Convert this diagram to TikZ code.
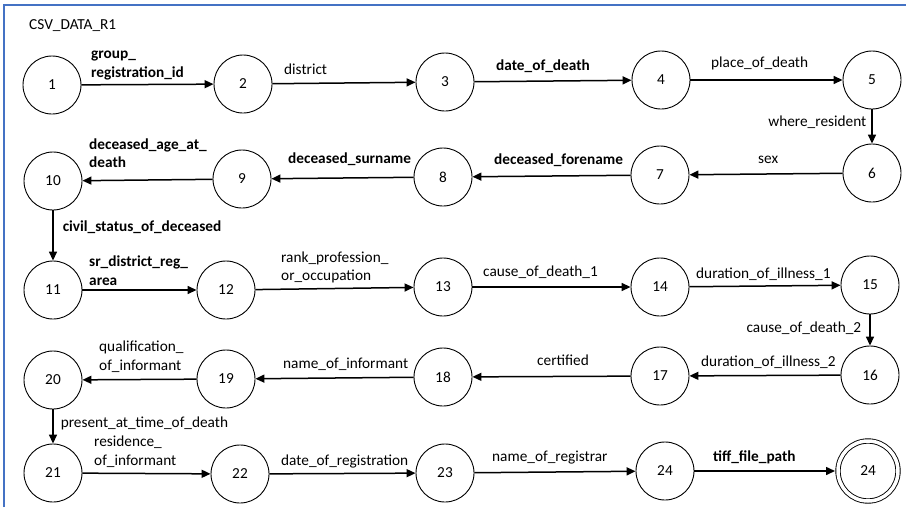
\documentclass[tikz,border=0pt]{standalone}
\usepackage{fontspec}
\setmainfont{Carlito}
\usetikzlibrary{arrows.meta}
\definecolor{frameblue}{HTML}{4472C4}

\begin{document}
\begin{tikzpicture}[
  x=1pt, y=-1pt,
  font=\fontsize{15.3}{18.5}\selectfont,
  st/.style={circle, draw, line width=0.9pt, minimum size=58pt, inner sep=0pt},
  fin/.style={st, double, double distance=3.5pt, minimum size=60pt, outer sep=3pt},
  arr/.style={-{Triangle[length=9pt,width=8pt]}, line width=1.5pt},
  lbl/.style={anchor=south west, inner sep=0pt, align=left, yshift=-5.55pt,
              execute at end node=\strut},
  lblb/.style={lbl, font=\fontsize{15.3}{18.5}\selectfont\bfseries},
  vlbl/.style={inner sep=0pt},
]
\useasboundingbox (0,0) rectangle (906,507);
% frame and title
\draw[frameblue, line width=1.4pt] (4,507) -- (4,5) -- (906,5);
\node[anchor=west, inner sep=0pt] (title) at (29,26) {CSV\_DATA\_R1};
% states
\foreach \n/\x/\y in {
  1/52/85, 2/243/84, 3/445/82, 4/661/80, 5/872/80,
  6/872/173, 7/660/175, 8/443/177, 9/242/179, 10/53/181,
  11/53/290, 12/226/290, 13/443/287, 14/660/287, 15/870/285,
  16/870/375, 17/660/376, 18/443/377, 19/226/379, 20/53/380,
  21/53/473, 22/240/474, 23/445/473, 24/665/471%
}{
  \node[st] (n\n) at (\x,\y) {\n};
}
\node[fin] (nF) at (868,471) {24};
% horizontal transitions
\foreach \a/\b/\p/\dx/\dy/\s/\txt in {
  1/2/0/9/7/lblb/{group\_\\registration\_id},
  2/3/0/11/8/lbl/{district},
  3/4/0/21/10/lblb/{date\_of\_death},
  4/5/0/20/12/lbl/{place\_of\_death},
  6/7/1/68/10/lbl/{sex},
  7/8/1/21/11/lblb/{deceased\_forename},
  8/9/1/16/14/lblb/{deceased\_surname},
  9/10/1/6/12/lblb/{deceased\_age\_at\_\\death},
  11/12/0/6/4/lblb/{sr\_district\_reg\_\\area},
  12/13/0/25/8/lbl/{rank\_profession\_\\or\_occupation},
  13/14/0/10/10/lbl/{cause\_of\_death\_1},
  14/15/0/6/7/lbl/{duration\_of\_illness\_1},
  16/17/1/11/9/lbl/{duration\_of\_illness\_2},
  17/18/1/64/11/lbl/{certified},
  18/19/1/27/9/lbl/{name\_of\_informant},
  19/20/1/16/9/lbl/{qualification\_\\of\_informant},
  21/22/0/11/7/lbl/{residence\_\\of\_informant},
  22/23/0/11/8/lbl/{date\_of\_registration},
  23/24/0/17/10/lbl/{name\_of\_registrar},
  24/F/0/18/9/lblb/{tiff\_file\_path}%
}{
  \draw[arr] (n\a) -- (n\b)
    node[\s, pos=\p, xshift=\dx pt, yshift=\dy pt] {\txt};
}
% vertical transitions
\draw[arr] (n5) -- (n6)
  node[vlbl, midway, anchor=east, xshift=-5pt, yshift=4pt] {where\_resident};
\draw[arr] (n10) -- (n11)
  node[vlbl, midway, anchor=west, xshift=9pt, yshift=8pt, font=\fontsize{15.3}{18.5}\selectfont\bfseries] {civil\_status\_of\_deceased};
\draw[arr] (n15) -- (n16)
  node[vlbl, midway, anchor=east, xshift=-8pt, yshift=2pt] {cause\_of\_death\_2};
\draw[arr] (n20) -- (n21)
  node[vlbl, midway, anchor=west, xshift=7pt, yshift=3pt] {present\_at\_time\_of\_death};
\end{tikzpicture}
\end{document}
